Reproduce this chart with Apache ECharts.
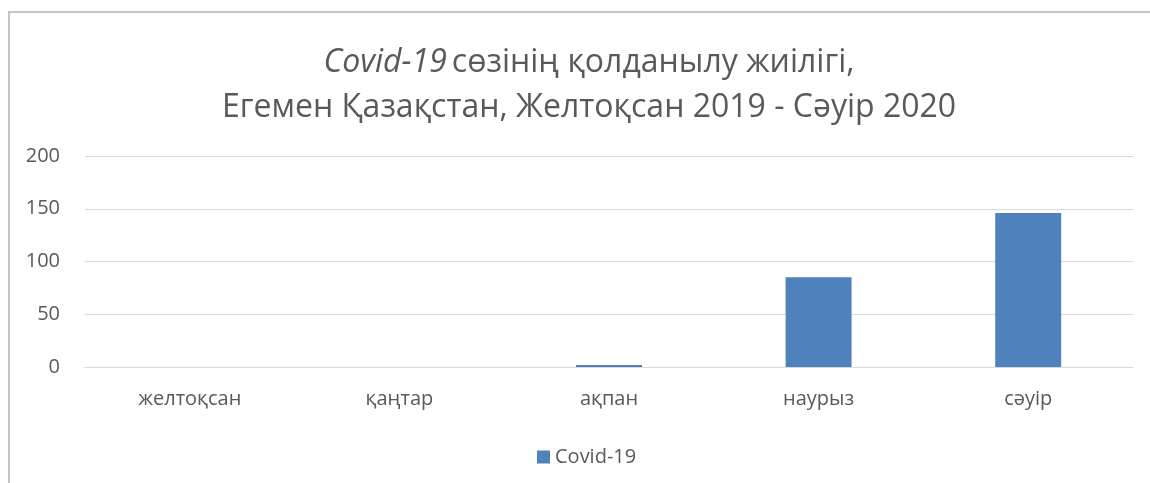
<!DOCTYPE html>
<html><head><meta charset="utf-8">
<script src="https://cdn.jsdelivr.net/npm/echarts@6/dist/echarts.min.js"></script>
<style>
html,body{margin:0;padding:0;background:#fff;}
#frame{position:absolute;left:8px;top:11px;width:1160px;height:490px;border-left:2px solid #c4c4c4;border-top:2px solid #c4c4c4;}
#c{position:absolute;left:0;top:0;width:1150px;height:483px;}
</style></head>
<body>
<div id="frame"></div>
<div id="c"></div>
<script>
const categories = ['желтоқсан', 'қаңтар', 'ақпан', 'наурыз', 'сәуір'];
const covidValues = [0, 0, 2, 85, 146];
const seriesName = 'Covid-19';
const yTicks = [0, 50, 100, 150, 200];

const font = '"Open Sans", "Noto Sans", sans-serif';
const chart = echarts.init(document.getElementById('c'), null, {renderer: 'canvas'});
chart.setOption({
  animation: false,
  title: {
    text: '{i|Covid-19} {n|сөзінің қолданылу жиілігі,}\n{n|Егемен Қазақстан, Желтоқсан 2019 - Сәуір 2020}',
    left: 584, top: 35, textAlign: 'center',
    textStyle: {
      fontWeight: 'normal',
      rich: {
        i: {fontStyle: 'italic', fontWeight: 'normal', fontSize: 32, color: '#595959', fontFamily: font, lineHeight: 45},
        n: {fontWeight: 'normal', fontSize: 32, color: '#595959', fontFamily: font, lineHeight: 45}
      }
    }
  },
  legend: {
    data: [seriesName], left: 532, top: 442,
    icon: 'rect', itemWidth: 13, itemHeight: 13, itemGap: 7,
    textStyle: {color: '#595959', fontSize: 20, fontFamily: font}
  },
  grid: {left: 85, right: 17, top: 156, bottom: 116, containLabel: false},
  xAxis: {
    type: 'category', data: categories,
    axisLine: {show: true, lineStyle: {color: '#d9d9d9', width: 1}},
    axisTick: {show: false},
    axisLabel: {color: '#595959', fontSize: 20, fontFamily: font, margin: 22}
  },
  yAxis: {
    type: 'value', min: yTicks[0], max: yTicks[yTicks.length - 1], interval: 50,
    axisLine: {show: false}, axisTick: {show: false},
    axisLabel: {color: '#595959', fontSize: 20, fontFamily: font, margin: 25},
    splitLine: {lineStyle: {color: '#d9d9d9', width: 1}}
  },
  series: [{
    name: seriesName, type: 'bar', data: covidValues, barWidth: 66,
    itemStyle: {color: '#4f81bd'}
  }]
});
</script>
</body></html>
